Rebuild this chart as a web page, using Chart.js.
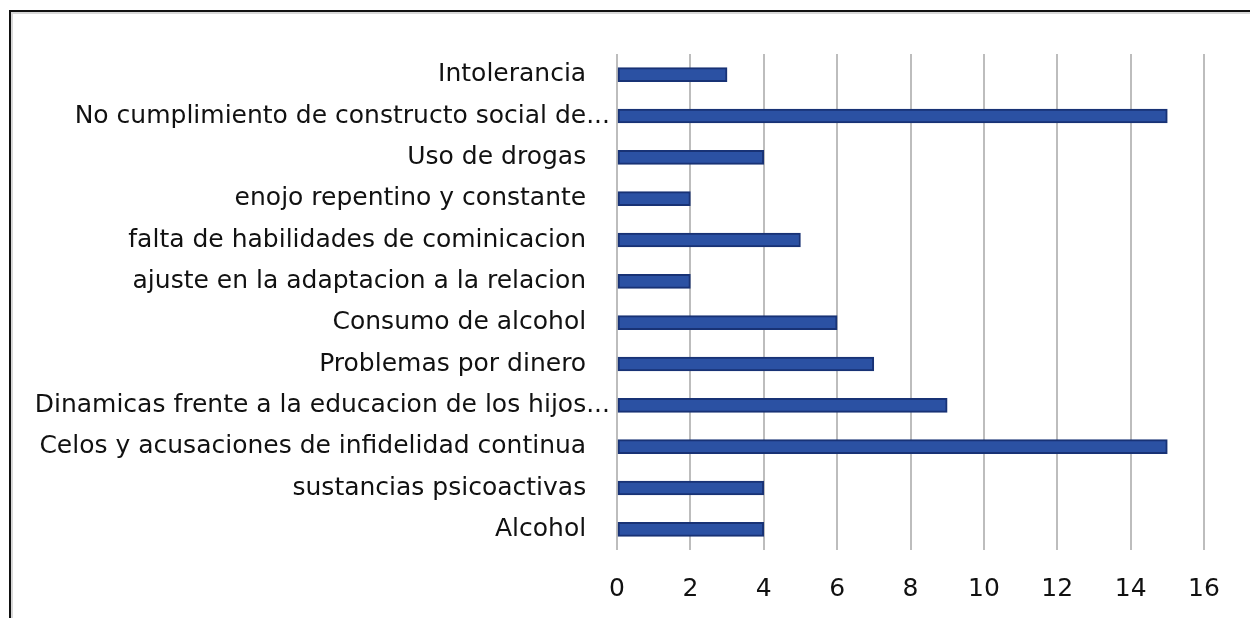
<!DOCTYPE html>
<html>
<head>
<meta charset="utf-8">
<script src="https://cdn.jsdelivr.net/npm/chart.js@4/dist/chart.umd.min.js"></script>
<style>
    html, body { margin: 0; padding: 0; background: #fff; }
    #wrap { position: relative; width: 1250px; height: 618px; overflow: hidden; }
    #frame {
        position: absolute; left: 9px; top: 10px; width: 1260px; height: 640px;
        border-left: 2px solid #111; border-top: 2px solid #111;
        box-shadow: inset 2px 2px 0 #d8d8d8;
    }
    #chart { position: absolute; left: 0; top: 0; }
</style>
</head>
<body>
<div id="wrap">
    <div id="frame"></div>
    <canvas id="chart" width="1250" height="618"></canvas>
</div>
<script>
const categories = [
    'Intolerancia',
    'No cumplimiento de constructo social de...',
    'Uso de drogas',
    'enojo repentino y constante',
    'falta de habilidades de cominicacion',
    'ajuste en la adaptacion a la relacion',
    'Consumo de alcohol',
    'Problemas por dinero',
    'Dinamicas frente a la educacion de los hijos...',
    'Celos y acusaciones de infidelidad continua',
    'sustancias psicoactivas',
    'Alcohol'
];
const counts = [3, 15, 4, 2, 5, 2, 6, 7, 9, 15, 4, 4];
const xTicks = [0, 2, 4, 6, 8, 10, 12, 14, 16];

const labelFont = { family: '"DejaVu Sans", sans-serif', size: 25 };

// truncated labels let their dots run past the common right edge, like Excel
const tickLabel = (v, i) => categories[i].endsWith('...') ? categories[i] : categories[i] + '   ';

const ctx = document.getElementById('chart').getContext('2d');
new Chart(ctx, {
    type: 'bar',
    data: {
        labels: categories,
        datasets: [{
            data: counts,
            backgroundColor: '#2b51a3',
            borderColor: '#183275',
            borderWidth: 2,
            borderSkipped: false,
            barThickness: 14
        }]
    },
    options: {
        indexAxis: 'y',
        responsive: false,
        animation: false,
        layout: { padding: { top: 54, right: 46, bottom: 0, left: 0 } },
        plugins: { legend: { display: false }, tooltip: { enabled: false } },
        scales: {
            x: {
                min: 0,
                max: 16,
                afterBuildTicks: scale => { scale.ticks = xTicks.map(v => ({ value: v })); },
                afterFit: scale => { scale.height = 68; },
                grid: { color: '#bdbdbd', lineWidth: 2, drawTicks: false },
                border: { display: false },
                ticks: { color: '#111', font: labelFont, padding: 24 }
            },
            y: {
                afterFit: scale => { scale.width = 617; },
                grid: { display: false, drawTicks: false },
                border: { display: false },
                ticks: { color: '#111', font: labelFont, padding: 7, autoSkip: false, callback: tickLabel }
            }
        }
    }
});
</script>
</body>
</html>
